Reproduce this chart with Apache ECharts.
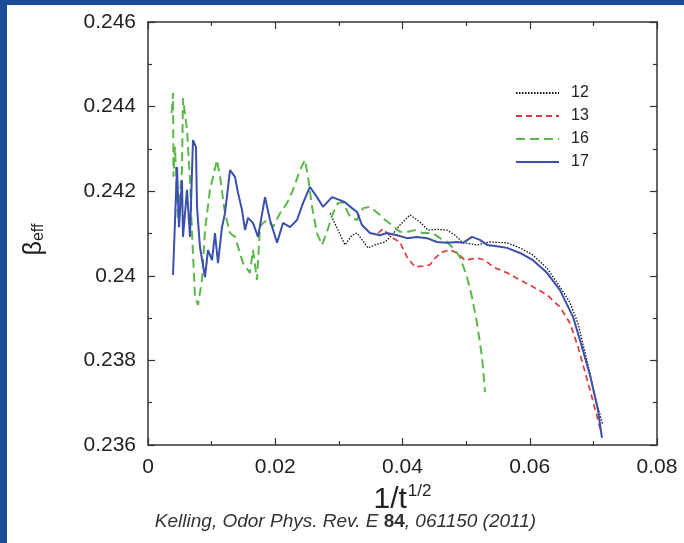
<!DOCTYPE html>
<html>
<head>
<meta charset="utf-8">
<script src="https://cdn.jsdelivr.net/npm/echarts@6/dist/echarts.min.js"></script>
<style>
html,body{margin:0;padding:0;width:684px;height:543px;overflow:hidden;background:#1a4c9a;}
#panel{position:absolute;left:7px;top:5px;width:677px;height:538px;background:#ffffff;}
#chart{width:677px;height:538px;}
</style>
</head>
<body>
<div id="panel"><div id="chart"></div></div>
<script>
// ---- data ----
const seriesNames = ['12', '13', '16', '17'];
const xTicks = [0, 0.02, 0.04, 0.06, 0.08];
const yTicks = [0.236, 0.238, 0.24, 0.242, 0.244, 0.246];

const s12 = [
  [0.0286,0.24148],[0.03096,0.24073],[0.03206,0.24096],[0.03285,0.24101],[0.03458,0.24066],
  [0.03568,0.24073],[0.03725,0.2408],[0.03835,0.24096],[0.0396,0.2412],[0.04118,0.24144],
  [0.04275,0.24127],[0.04401,0.24108],[0.04542,0.2411],[0.047,0.24108],[0.04825,0.24096],
  [0.04951,0.24078],[0.05171,0.24073],[0.05375,0.2408],[0.05642,0.24078],[0.05847,0.24066],
  [0.06051,0.24049],[0.06271,0.24018],[0.06475,0.23974],[0.06633,0.23936],[0.06758,0.23888],
  [0.06916,0.23789],[0.07041,0.23706],[0.0715,0.23647]
];
const s13 = [
  [0.03615,0.24101],[0.03693,0.24111],[0.03835,0.2409],[0.0396,0.2408],[0.04071,0.24044],
  [0.04196,0.24021],[0.04322,0.24023],[0.04432,0.24026],[0.04511,0.24042],[0.04621,0.24056],
  [0.04747,0.24061],[0.04857,0.24054],[0.04982,0.24037],[0.05171,0.24042],[0.05297,0.24037],
  [0.05422,0.24021],[0.05642,0.24007],[0.05847,0.2399],[0.06051,0.23974],[0.06271,0.23955],
  [0.06475,0.23926],[0.06633,0.23888],[0.06758,0.23832],[0.06947,0.2373],[0.07072,0.23659],
  [0.0712,0.2363]
];
const s16 = [
  [0.00372,0.24385],[0.00393,0.24432],[0.00400,0.24234],[0.00424,0.24305],[0.00472,0.24132],
  [0.00534,0.2425],[0.0055,0.2442],[0.00613,0.24345],[0.0066,0.24226],[0.00692,0.24101],
  [0.00739,0.2395],[0.00786,0.23931],[0.00849,0.2399],[0.00896,0.24108],[0.00974,0.24203],
  [0.01084,0.24274],[0.01132,0.24234],[0.0121,0.24148],[0.01289,0.24101],[0.01367,0.24092],
  [0.01446,0.24054],[0.01493,0.2403],[0.01603,0.24007],[0.0165,0.24061],[0.01713,0.2399],
  [0.0176,0.24115],[0.01807,0.24125],[0.01886,0.24132],[0.01965,0.24115],[0.02075,0.24148],
  [0.02185,0.24172],[0.02279,0.24203],[0.02389,0.2425],[0.02468,0.24274],[0.02515,0.24234],
  [0.02578,0.24163],[0.02656,0.24101],[0.02735,0.24073],[0.02813,0.24104],[0.02908,0.24148],
  [0.02986,0.24172],[0.03065,0.24174],[0.03175,0.24139],[0.03285,0.24132],[0.03379,0.2416],
  [0.03489,0.24163],[0.03615,0.24148],[0.03725,0.24132],[0.03835,0.2412],[0.0396,0.24104],
  [0.04086,0.24104],[0.04196,0.24108],[0.04322,0.24101],[0.04479,0.24101],[0.04589,0.24089],
  [0.047,0.2408],[0.04794,0.24066],[0.04904,0.24044],[0.05014,0.23997],[0.05092,0.2395],
  [0.05171,0.23888],[0.0525,0.23808],[0.05297,0.23725]
];
const s17 = [
  [0.00393,0.24002],[0.00456,0.24257],[0.00487,0.24115],[0.00534,0.24226],[0.0055,0.24092],
  [0.00613,0.24203],[0.0066,0.24092],[0.00707,0.24321],[0.00754,0.24304],[0.0077,0.24163],
  [0.00817,0.24068],[0.00896,0.23997],[0.00943,0.24061],[0.01006,0.24037],[0.01053,0.24101],
  [0.011,0.2403],[0.01163,0.24115],[0.0121,0.24148],[0.01289,0.2425],[0.01367,0.24234],
  [0.01415,0.24196],[0.01477,0.24156],[0.01525,0.24108],[0.01572,0.24137],[0.0165,0.24125],
  [0.01729,0.24092],[0.01839,0.24186],[0.01918,0.24132],[0.02028,0.24078],[0.02122,0.24125],
  [0.02232,0.24115],[0.02342,0.24132],[0.02436,0.24172],[0.02546,0.2421],[0.02656,0.24186],
  [0.0275,0.24163],[0.02892,0.24186],[0.03018,0.24179],[0.03096,0.24174],[0.03206,0.2416],
  [0.03285,0.24151],[0.03363,0.2412],[0.03489,0.24101],[0.03646,0.24096],[0.03756,0.24101],
  [0.03914,0.24096],[0.04071,0.24089],[0.04228,0.24092],[0.04385,0.24089],[0.04542,0.2408],
  [0.047,0.24078],[0.04857,0.2408],[0.04951,0.24078],[0.05092,0.24092],[0.05218,0.24085],
  [0.05328,0.24073],[0.05485,0.2407],[0.05642,0.24066],[0.05847,0.24054],[0.06051,0.24037],
  [0.06271,0.24007],[0.06475,0.23966],[0.0668,0.23903],[0.0679,0.23848],[0.06947,0.23765],
  [0.07072,0.23683],[0.07135,0.23617]
];
const caption = ['Kelling, Odor Phys. Rev. E ', '84', ', 061150 (2011)'];

// ---- chart ----
const FONT = 'Liberation Sans';
const AX = '#333333';
const chart = echarts.init(document.getElementById('chart'), null, {renderer: 'canvas'});

function axisCommon(showLabel) {
  return {
    axisLine: {show: true, onZero: false, lineStyle: {color: AX, width: 1.5}},
    axisTick: {show: true, inside: true, length: 7, lineStyle: {color: AX, width: 1.2}},
    minorTick: {show: true, splitNumber: 2, length: 4, lineStyle: {color: AX, width: 1.2}},
    splitLine: {show: false},
    axisLabel: {show: showLabel, color: '#222', fontFamily: FONT, fontSize: 21, margin: 12}
  };
}

const colors = ['#111111', '#e0393b', '#5db84a', '#3a4fae'];

const option = {
  animation: false,
  backgroundColor: '#ffffff',
  color: colors,
  grid: {left: 141, top: 17, right: 27, bottom: 98, containLabel: false},
  legend: {
    data: seriesNames,
    orient: 'vertical',
    left: 508, top: 80,
    itemWidth: 43, itemHeight: 14, itemGap: 7, padding: 0,
    itemStyle: {opacity: 0},
    textStyle: {fontFamily: FONT, fontSize: 16, color: '#222', padding: [0, 0, 0, 7]}
  },
  xAxis: [
    Object.assign(axisCommon(true), {
      type: 'value', position: 'bottom',
      min: xTicks[0], max: xTicks[xTicks.length - 1], interval: xTicks[1] - xTicks[0],
      name: '1/t{sup|1/2}', nameLocation: 'middle', nameGap: 19,
      nameTextStyle: {
        fontFamily: FONT, fontSize: 30, color: '#222', verticalAlign: 'top',
        rich: {sup: {fontFamily: FONT, fontSize: 17, color: '#222', verticalAlign: 'top', padding: [0, 0, 16, 1]}}
      }
    }),
    Object.assign(axisCommon(false), {
      type: 'value', position: 'top',
      min: xTicks[0], max: xTicks[xTicks.length - 1], interval: xTicks[1] - xTicks[0]
    })
  ],
  yAxis: [
    Object.assign(axisCommon(true), {
      type: 'value', position: 'left',
      min: yTicks[0], max: yTicks[yTicks.length - 1], interval: 0.002,
      name: 'β{sub|eff}', nameLocation: 'middle', nameGap: 101, nameRotate: 90,
      nameTextStyle: {
        fontFamily: FONT, fontSize: 25, color: '#222', padding: [0, 12, 0, 0],
        rich: {sub: {fontFamily: FONT, fontSize: 16, color: '#222', verticalAlign: 'bottom', padding: [10, 0, 0, 0]}}
      }
    }),
    Object.assign(axisCommon(false), {
      type: 'value', position: 'right',
      min: yTicks[0], max: yTicks[yTicks.length - 1], interval: 0.002
    })
  ],
  series: [
    {name: seriesNames[0], type: 'line', data: s12, symbol: 'none', z: 3,
     itemStyle: {color: colors[0]},
     lineStyle: {color: colors[0], width: 1.3, type: [1.5, 1.5]}},
    {name: seriesNames[1], type: 'line', data: s13, symbol: 'none', z: 4,
     itemStyle: {color: colors[1]},
     lineStyle: {color: colors[1], width: 1.7, type: [6, 4]}},
    {name: seriesNames[2], type: 'line', data: s16, symbol: 'none', z: 5,
     itemStyle: {color: colors[2]},
     lineStyle: {color: colors[2], width: 2, type: [9, 5]}},
    {name: seriesNames[3], type: 'line', data: s17, symbol: 'none', z: 6,
     itemStyle: {color: colors[3]},
     lineStyle: {color: colors[3], width: 2}}
  ],
  graphic: [{
    type: 'text', left: 'center', top: 507,
    style: {
      text: '{i|' + caption[0] + '}{b|' + caption[1] + '}{i|' + caption[2] + '}',
      rich: {
        i: {fontFamily: FONT, fontSize: 19, fontStyle: 'italic', fill: '#333'},
        b: {fontFamily: FONT, fontSize: 19, fontWeight: 'bold', fill: '#333'}
      }
    }
  }]
};
chart.setOption(option);
</script>
</body>
</html>
